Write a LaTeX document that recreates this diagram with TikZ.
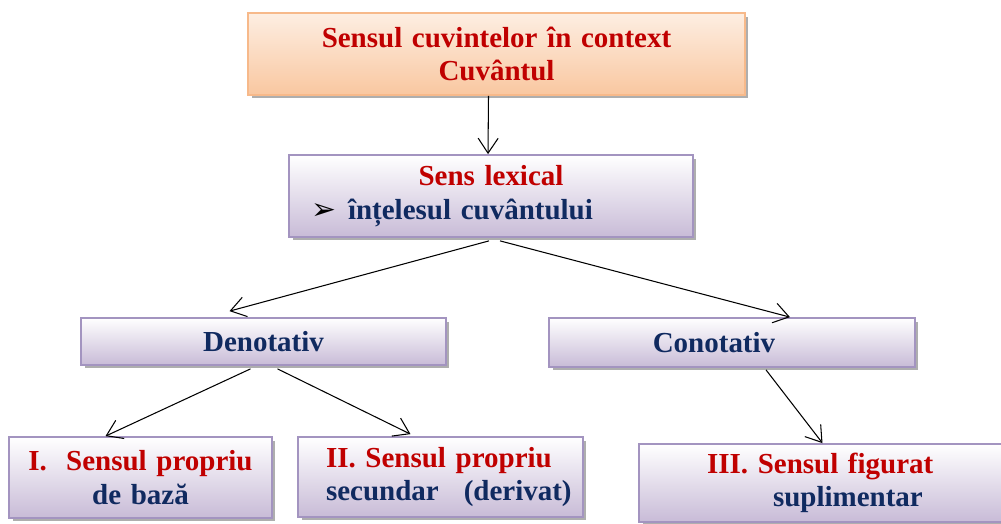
\documentclass[tikz,border=0pt]{standalone}
\usepackage{fontspec}
\setmainfont{Liberation Serif}
\newfontfamily\bulletfont{DejaVu Sans}
\usetikzlibrary{calc, arrows.meta, shadows}
\definecolor{lexred}{RGB}{192,0,0}
\definecolor{lexblue}{RGB}{16,42,96}
\definecolor{lexlilac}{RGB}{163,148,192}
\definecolor{lexpeach}{RGB}{247,185,138}
\tikzset{
  box/.style={rectangle, line width=1pt, inner xsep=0.06cm, inner ysep=0pt,
    font=\fontsize{16.5}{19}\selectfont\bfseries,
    drop shadow={shadow xshift=0.07cm, shadow yshift=-0.07cm, fill=black!45, opacity=0.7}},
  pbox/.style={box, draw=lexlilac, top color=white, bottom color={rgb,255:red,200;green,187;blue,215}},
  obox/.style={box, draw=lexpeach, top color={rgb,255:red,253;green,238;blue,226}, bottom color={rgb,255:red,249;green,199;blue,160}},
  link/.style={line width=0.6pt, -{Straight Barb[length=0.3cm,width=0.4cm]}}
}
\begin{document}
\begin{tikzpicture}[x=0.02cm, y=-0.02cm]
                \useasboundingbox (0,0) rectangle (1001,524);
                \node[obox, minimum width=9.94cm, minimum height=1.64cm, text width=9.82cm, align=center, text=lexred] (context) at (496.5,54) {Sensul cuvintelor în context\\Cuvântul\\[0.12cm]};
                \node[pbox, minimum width=8.08cm, minimum height=1.64cm, text width=7.96cm, align=left, text=lexred] (lexical) at (491,196) {\makebox[\linewidth]{Sens lexical}\\\hspace*{0.38cm}\makebox[0.74cm][l]{\color{black}\bulletfont\fontsize{17}{17}\selectfont ➢}{\color{lexblue}înțelesul cuvântului}};
                \node[pbox, minimum width=7.3cm, minimum height=0.94cm, text width=7.18cm, align=center, text=lexblue] (denot) at (263.5,341.5) {Denotativ};
                \node[pbox, minimum width=7.32cm, minimum height=0.98cm, text width=7.2cm, align=center, text=lexblue] (conot) at (732,342.5) {Conotativ\hspace*{0.72cm}};
                \node[pbox, minimum width=5.26cm, minimum height=1.62cm, text width=5.14cm, align=center, text=lexred] (propriu) at (140.5,477.5) {I.\ \ Sensul propriu\\{\color{lexblue}de bază}};
                \node[pbox, minimum width=5.7cm, minimum height=1.6cm, text width=5.58cm, align=left, text=lexred] (secundar) at (440.5,477) {\hspace*{0.5cm}II. Sensul propriu\\\hspace*{0.5cm}{\color{lexblue}secundar\hspace{0.5cm}(derivat)}};
                \node[pbox, minimum width=7.34cm, minimum height=1.56cm, text width=7.22cm, align=left, text=lexred] (figurat) at (822.5,483) {\hspace*{1.3cm}III. Sensul figurat\\\hspace*{2.62cm}{\color{lexblue}suplimentar}};
                \draw[link] ($(context.south)+(-8,0)$) -- ($(lexical.north)+(-3,0)$);
                \draw[link] ($(lexical.south)+(-2,3)$) -- ($(denot.north)+(-34,-6)$);
                \draw[link] ($(lexical.south)+(9,3)$) -- ($(conot.north)+(58,0)$);
                \draw[link] ($(denot.south)+(-13,3)$) -- ($(propriu.north)+(-35,0)$);
                \draw[link] ($(denot.south)+(14,3)$) -- ($(secundar.north)+(-30,-2)$);
                \draw[link] ($(conot.south)+(34,2)$) -- (figurat.north);
\end{tikzpicture}
\end{document}
